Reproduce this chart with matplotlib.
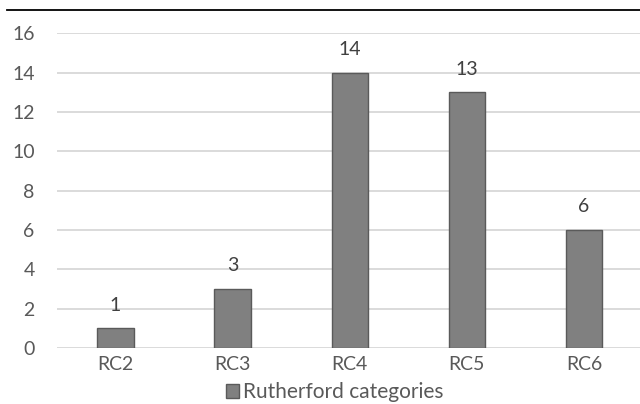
import matplotlib
matplotlib.use("Agg")
import matplotlib.pyplot as plt
from matplotlib.lines import Line2D
from matplotlib.patches import Patch
import numpy as np

plt.rcParams["font.family"] = ["Lato", "DejaVu Sans"]

categories = ["RC2", "RC3", "RC4", "RC5", "RC6"]
counts = [1, 3, 14, 13, 6]
yticks = [0, 2, 4, 6, 8, 10, 12, 14, 16]

TEXT = "#595959"
BAR = "#808080"
EDGE = "#5a5a5a"

fig = plt.figure(figsize=(6.4, 4.04), dpi=100)
ax = fig.add_axes([0.089, 0.1386, 0.915, 0.779])

x = np.arange(len(categories))
bars = ax.bar(x, counts, width=0.31, color=BAR, edgecolor=EDGE, linewidth=1.0, zorder=3)
for b, v in zip(bars, counts):
    ax.text(b.get_x() + b.get_width() / 2, v + 0.75, str(v), ha="center", va="bottom",
            fontsize=14, color="#404040")

ax.set_xlim(-0.5, len(categories) - 0.5)
ax.set_ylim(0, 16)
ax.set_yticks(yticks)
ax.set_xticks(x)
ax.set_xticklabels(categories)
ax.tick_params(axis="both", length=0, labelsize=14, labelcolor=TEXT)
ax.tick_params(axis="y", pad=16)
ax.tick_params(axis="x", pad=6)
ax.grid(axis="y", color="#d4d4d4", lw=1.2, zorder=0)
for s in ax.spines.values():
    s.set_visible(False)

handle = Patch(facecolor=BAR, edgecolor=EDGE, linewidth=1.0)
fig.legend([handle], ["Rutherford categories"], loc="center", bbox_to_anchor=(0.523, 0.03),
           frameon=False, fontsize=15, labelcolor=TEXT, handlelength=0.65, handleheight=0.65,
           handletextpad=0.2, borderpad=0)

# rule across the top
fig.add_artist(Line2D([0.011, 1.0], [0.976, 0.976], color="black", lw=1.3))

fig.savefig("out.png", dpi=100)
